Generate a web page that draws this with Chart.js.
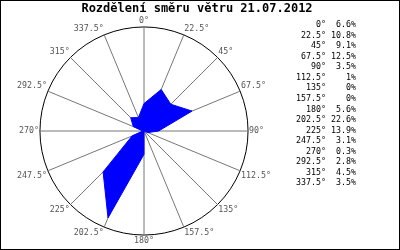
<!DOCTYPE html>
<html>
<head>
<meta charset="utf-8">
<script src="https://cdn.jsdelivr.net/npm/chart.js@4/dist/chart.umd.min.js"></script>
<style>
  html, body { margin: 0; padding: 0; background: #fff; }
  #wrap { width: 400px; height: 250px; position: relative; }
</style>
</head>
<body>
<div id="wrap"><canvas id="c" width="400" height="250"></canvas></div>
<script>
// wind direction share
const directions = ['0°', '22.5°', '45°', '67.5°', '90°', '112.5°', '135°', '157.5°',
  '180°', '202.5°', '225°', '247.5°', '270°', '292.5°', '315°', '337.5°'];
const shares = [6.6, 10.8, 9.1, 12.5, 3.5, 1, 0, 0, 5.6, 22.6, 13.9, 3.1, 0.3, 2.8, 4.5, 3.5];
const shareText = ['6.6%', '10.8%', '9.1%', '12.5%', '3.5%', '1%', '0%', '0%',
  '5.6%', '22.6%', '13.9%', '3.1%', '0.3%', '2.8%', '4.5%', '3.5%'];
const title = 'Rozdělení směru větru 21.07.2012';

const mono = '"DejaVu Sans Mono", "Liberation Mono", monospace';

// title, side list and frame are drawn by hand
const extras = {
  id: 'extras',
  afterDraw(chart) {
    const ctx = chart.ctx;
    ctx.save();
    ctx.fillStyle = '#000';
    ctx.textBaseline = 'middle';
    ctx.textAlign = 'center';
    ctx.font = 'bold 12px ' + mono;
    ctx.fillText(title, 197, 9);

    ctx.font = '8.3px ' + mono;
    ctx.textAlign = 'right';
    directions.forEach((d, i) => {
      let line = d.padStart(6, ' ') + ' ' + shareText[i].padStart(5, ' ');
      ctx.fillText(line, 356, 25 + i * 10.55);
    });

    ctx.strokeStyle = '#000';
    ctx.lineWidth = 1;
    ctx.strokeRect(0.5, 0.5, 399, 249);
    ctx.restore();
  }
};

new Chart(document.getElementById('c'), {
  type: 'radar',
  data: {
    labels: directions,
    datasets: [{
      data: shares,
      backgroundColor: '#0000ff',
      borderColor: '#0000ff',
      borderWidth: 1,
      pointRadius: 0,
      fill: true
    }]
  },
  options: {
    responsive: false,
    animation: false,
    layout: { padding: { left: 15, right: 126, top: 16, bottom: 3 } },
    plugins: {
      legend: { display: false },
      tooltip: { enabled: false }
    },
    scales: {
      r: {
        min: 0,
        max: 25,
        ticks: { display: false, stepSize: 25 },
        grid: { color: '#000', lineWidth: 1, circular: true },
        angleLines: { color: '#777', lineWidth: 1 },
        pointLabels: {
          color: '#555',
          padding: 1,
          font: { family: mono, size: 8.3 }
        }
      }
    }
  },
  plugins: [extras]
});
</script>
</body>
</html>
